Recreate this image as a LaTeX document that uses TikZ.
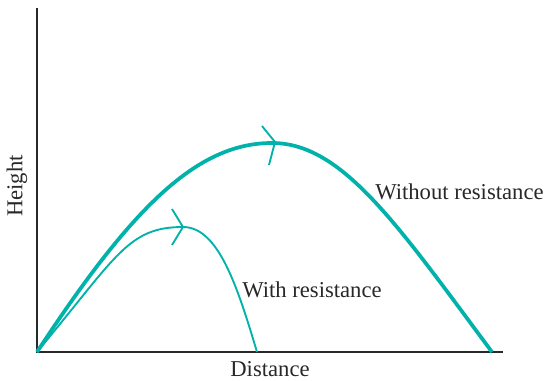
\documentclass[tikz,border=0pt]{standalone}
\usepackage{fontspec}
\setmainfont{Liberation Serif}
\definecolor{traj}{RGB}{0,178,169}
\definecolor{axis}{RGB}{40,40,40}

\begin{document}
\begin{tikzpicture}[x=0.75pt, y=0.75pt,
  lbl/.style={font=\fontsize{17}{20}\selectfont, text=axis, inner sep=0pt}]
\useasboundingbox (-37, -28) rectangle (507, 352);

% axes
\coordinate (o) at (0, 0);
\coordinate (ytop) at (0, 344);
\coordinate (xend) at (466, 0);
\draw [axis, line width=1.6pt] (ytop) -- (o) -- (xend);

% trajectories
\coordinate (p1) at (235, 209);
\coordinate (e1) at (455, 0);
\coordinate (p2) at (146, 125);
\coordinate (e2) at (220, 0);
\draw [traj, line width=2.8pt] (o) .. controls (95, 145) and (160, 209) .. (p1)
  .. controls (305, 209) and (360, 128) .. (e1);
\draw [traj, line width=1.4pt] (o) .. controls (80, 96) and (91, 125) .. (p2)
  .. controls (181, 125) and (200, 67) .. (e2);

% direction marks
\coordinate (t1) at (238, 210);
\draw [traj, line width=1.4pt] (225, 226) -- (t1) -- (232, 187);
\draw [traj, line width=1.4pt] (135, 143) -- (p2) -- (135, 107);

\node [lbl, rotate=90] (height) at (-20, 166) {Height};
\node [lbl] (dist) at (233, -17) {Distance};
\node [lbl, anchor=west] (without) at (338, 160) {Without resistance};
\node [lbl, anchor=west] (with) at (205, 62) {With resistance};
\end{tikzpicture}
\end{document}
